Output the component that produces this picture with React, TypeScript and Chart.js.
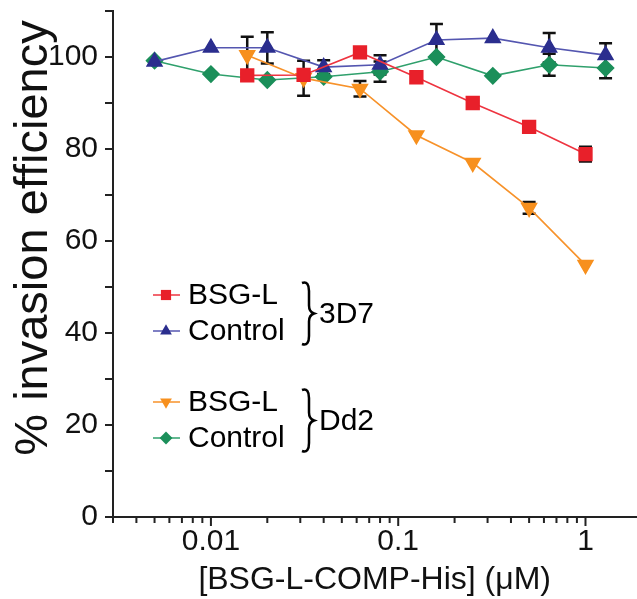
import React, { useEffect, useRef } from "react";
import { Chart, registerables } from "chart.js";

Chart.register(...registerables);

// ---- data ----
const bsgConc = [0.015625, 0.03125, 0.0625, 0.125, 0.25, 0.5, 1];
const ctrlConc = [0.005, 0.01, 0.02, 0.04, 0.08, 0.16, 0.32, 0.64, 1.28];

const bsg3D7 = [96, 96.1, 101, 95.6, 90, 84.8, 78.9];
const bsg3D7Err = [0, 0, 0, 0, 0, 0, 1.6];
const ctrl3D7 = [99, 102, 102, 97.8, 98.3, 103.7, 104.1, 102, 100.4];
const ctrl3D7Err = [0, 0, 3.4, 1.5, 2.1, 3.5, 0, 3.2, 2.6];
const bsgDd2 = [100.4, 95.4, 93.1, 83, 77, 67.2, 54.8];
const bsgDd2Err = [4, 3.8, 1.7, 0, 0, 1.3, 0];
const ctrlDd2 = [99.2, 96.3, 95, 95.7, 96.8, 100, 95.9, 98.3, 97.6];
const ctrlDd2Err = [0, 0, 0, 0, 2.2, 0, 0, 2.4, 2.2];

const xLabeled = [0.01, 0.1, 1];
const yTickStep = 10;
const yLabelStep = 20;
const yTitle = "% invasion efficiency";
const xTitle = "[BSG-L-COMP-His] (μM)";

const legendGroups = [
  { strain: "3D7", items: [{ label: "BSG-L", ds: 0 }, { label: "Control", ds: 1 }] },
  { strain: "Dd2", items: [{ label: "BSG-L", ds: 2 }, { label: "Control", ds: 3 }] },
];

const FONT = "'Liberation Sans', Arial, Helvetica, sans-serif";

const errors = [bsg3D7Err, ctrl3D7Err, bsgDd2Err, ctrlDd2Err];

function buildXTicks(min: number, max: number) {
  const out: { value: number }[] = [];
  for (let k = -3; k <= 0; k++) {
    for (let m = 1; m <= 9; m++) {
      const v = m * Math.pow(10, k);
      if (v >= min * 0.999 && v <= max) out.push({ value: v });
    }
  }
  return out;
}

const isLabeled = (v: number) => xLabeled.some((l) => Math.abs(l - v) / l < 1e-6);

const zeroPad = (s: any) => {
  s.paddingLeft = 0;
  s.paddingRight = 0;
  s.paddingTop = 0;
  s.paddingBottom = 0;
};

const errorBarPlugin = {
  id: "errbars",
  beforeDatasetsDraw(chart: any) {
    const ctx = chart.ctx;
    const ys = chart.scales.y;
    ctx.save();
    ctx.strokeStyle = "#111";
    ctx.lineWidth = 2.5;
    chart.data.datasets.forEach((ds: any, di: number) => {
      const meta = chart.getDatasetMeta(di);
      meta.data.forEach((pt: any, i: number) => {
        const e = errors[di][i];
        if (!e) return;
        const v = ds.data[i].y;
        const yt = ys.getPixelForValue(v + e);
        const yb = ys.getPixelForValue(v - e);
        const x = pt.x;
        ctx.beginPath();
        ctx.moveTo(x, yt);
        ctx.lineTo(x, yb);
        ctx.moveTo(x - 6.5, yt);
        ctx.lineTo(x + 6.5, yt);
        ctx.moveTo(x - 6.5, yb);
        ctx.lineTo(x + 6.5, yb);
        ctx.stroke();
      });
    });
    ctx.restore();
  },
};

const axisTickPlugin = {
  id: "axticks",
  afterDraw(chart: any) {
    const ctx = chart.ctx;
    const xs = chart.scales.x;
    const ys = chart.scales.y;
    const area = chart.chartArea;
    ctx.save();
    ctx.strokeStyle = "#222";
    ctx.lineWidth = 2;
    ctx.beginPath();
    xs.ticks.forEach((t: any) => {
      const x = xs.getPixelForValue(t.value);
      const len = isLabeled(t.value) ? 9 : 6;
      ctx.moveTo(x, area.bottom);
      ctx.lineTo(x, area.bottom + len);
    });
    ys.ticks.forEach((t: any) => {
      const y = ys.getPixelForValue(t.value);
      ctx.moveTo(area.left, y);
      ctx.lineTo(area.left - 8, y);
    });
    ctx.stroke();
    // y title
    ctx.translate(47, 238);
    ctx.rotate(-Math.PI / 2);
    ctx.fillStyle = "#111";
    ctx.font = `47px ${FONT}`;
    ctx.textAlign = "center";
    ctx.textBaseline = "alphabetic";
    ctx.fillText(yTitle, 0, 0);
    ctx.restore();
  },
};

function drawBrace(ctx: CanvasRenderingContext2D, x: number, y1: number, y2: number) {
  const mid = (y1 + y2) / 2;
  ctx.beginPath();
  ctx.moveTo(x - 3, y1 + 1);
  ctx.bezierCurveTo(x + 2, y1 - 1, x + 4, y1 + 3, x + 4, y1 + 9);
  ctx.lineTo(x + 4, mid - 8);
  ctx.bezierCurveTo(x + 4, mid - 3, x + 6, mid - 1, x + 9, mid);
  ctx.bezierCurveTo(x + 6, mid + 1, x + 4, mid + 3, x + 4, mid + 8);
  ctx.lineTo(x + 4, y2 - 9);
  ctx.bezierCurveTo(x + 4, y2 - 3, x + 2, y2 + 1, x - 3, y2 - 1);
  ctx.stroke();
}

function drawPointLocal(ctx: CanvasRenderingContext2D, o: any, x: number, y: number) {
  const r = o.radius;
  ctx.beginPath();
  if (o.pointStyle === "rect") {
    const s = Math.SQRT1_2 * r;
    ctx.rect(x - s, y - s, 2 * s, 2 * s);
  } else if (o.pointStyle === "rectRot") {
    ctx.moveTo(x, y - r);
    ctx.lineTo(x + r, y);
    ctx.lineTo(x, y + r);
    ctx.lineTo(x - r, y);
    ctx.closePath();
  } else if (o.pointStyle === "triangle") {
    const flip = o.rotation === 180 ? -1 : 1;
    ctx.moveTo(x, y - flip * r);
    ctx.lineTo(x + r * Math.cos(Math.PI / 6), y + (flip * r) / 2);
    ctx.lineTo(x - r * Math.cos(Math.PI / 6), y + (flip * r) / 2);
    ctx.closePath();
  }
  ctx.fill();
}

const legendPlugin = {
  id: "customLegend",
  afterDraw(chart: any) {
    const ctx = chart.ctx;
    ctx.save();
    const rowsY = [[295, 331], [402, 438]];
    legendGroups.forEach((g, gi) => {
      g.items.forEach((it, ii) => {
        const y = rowsY[gi][ii];
        const ds = chart.data.datasets[it.ds];
        ctx.strokeStyle = ds.borderColor;
        ctx.lineWidth = 1.5;
        ctx.beginPath();
        ctx.moveTo(153, y);
        ctx.lineTo(180, y);
        ctx.stroke();
        ctx.fillStyle = ds.pointBackgroundColor;
        drawPointLocal(
          ctx,
          { pointStyle: ds.pointStyle, rotation: ds.pointRotation || 0, radius: ds.pointRadius * 0.8 },
          166,
          y
        );
        ctx.fillStyle = "#000";
        ctx.font = `30px ${FONT}`;
        ctx.textBaseline = "middle";
        ctx.textAlign = "left";
        ctx.fillText(it.label, 188, y + 1);
      });
      const y1 = rowsY[gi][0] - 13;
      const y2 = rowsY[gi][1] + 14;
      ctx.strokeStyle = "#000";
      ctx.lineWidth = 2.5;
      drawBrace(ctx, 305, y1, y2);
      ctx.fillStyle = "#000";
      ctx.font = `30px ${FONT}`;
      ctx.textBaseline = "middle";
      ctx.fillText(g.strain, 319, (y1 + y2) / 2 + 1);
    });
    ctx.restore();
  },
};

const toPts = (xs: number[], ys: number[]) => xs.map((x, i) => ({ x, y: ys[i] }));

export default function App() {
  const ref = useRef<HTMLCanvasElement>(null);
  useEffect(() => {
    document.body.style.margin = "0";
    document.body.style.overflow = "hidden";
    const xMin = 0.003;
    const xMax = 1.87;
    const chart = new Chart(ref.current!, {
      type: "line",
      data: {
        datasets: [
          {
            label: "BSG-L 3D7",
            data: toPts(bsgConc, bsg3D7),
            borderColor: "#ee3440",
            backgroundColor: "#e8202a",
            pointBackgroundColor: "#e8202a",
            pointBorderColor: "#e8202a",
            pointStyle: "rect",
            pointRadius: 9,
            borderWidth: 1.6,
          },
          {
            label: "Control 3D7",
            data: toPts(ctrlConc, ctrl3D7),
            borderColor: "#5456b0",
            backgroundColor: "#2b2e8e",
            pointBackgroundColor: "#2b2e8e",
            pointBorderColor: "#2b2e8e",
            pointStyle: "triangle",
            pointRadius: 8.5,
            borderWidth: 1.6,
          },
          {
            label: "BSG-L Dd2",
            data: toPts(bsgConc, bsgDd2),
            borderColor: "#f7922a",
            backgroundColor: "#f7901e",
            pointBackgroundColor: "#f7901e",
            pointBorderColor: "#f7901e",
            pointStyle: "triangle",
            pointRotation: 180,
            pointRadius: 8.5,
            borderWidth: 1.6,
          },
          {
            label: "Control Dd2",
            data: toPts(ctrlConc, ctrlDd2),
            borderColor: "#2fa06c",
            backgroundColor: "#1b8f5a",
            pointBackgroundColor: "#1b8f5a",
            pointBorderColor: "#1b8f5a",
            pointStyle: "rectRot",
            pointRadius: 8,
            borderWidth: 1.6,
          },
        ] as any,
      },
      options: {
        animation: false,
        responsive: false,
        maintainAspectRatio: false,
        layout: { padding: { top: 11, right: 0, left: 0, bottom: 0 } },
        plugins: {
          legend: { display: false },
          tooltip: { enabled: false },
        },
        elements: { line: { tension: 0 } },
        scales: {
          x: {
            type: "logarithmic",
            min: xMin,
            max: xMax,
            afterBuildTicks: (s: any) => {
              s.ticks = buildXTicks(xMin, xMax);
            },
            afterFit: (s: any) => {
              s.height = 82;
              zeroPad(s);
            },
            grid: {
              display: true,
              drawOnChartArea: false,
              drawTicks: true,
              tickLength: 9,
              tickColor: "rgba(0,0,0,0)",
            },
            border: { display: true, color: "#222", width: 2 },
            ticks: {
              autoSkip: false,
              maxRotation: 0,
              minRotation: 0,
              padding: -2,
              color: "#111",
              font: { family: FONT, size: 30 },
              callback: (v: any) => (isLabeled(Number(v)) ? String(Number(v)) : ""),
            },
            title: {
              display: true,
              text: xTitle,
              color: "#111",
              font: { family: FONT, size: 32 },
              padding: { top: 7, bottom: 0 },
            },
          },
          y: {
            min: 0,
            max: 110,
            afterFit: (s: any) => {
              s.width = 113;
              zeroPad(s);
            },
            grid: {
              display: true,
              drawOnChartArea: false,
              drawTicks: true,
              tickLength: 8,
              tickColor: "rgba(0,0,0,0)",
            },
            border: { display: true, color: "#222", width: 2 },
            ticks: {
              stepSize: yTickStep,
              padding: 7,
              color: "#111",
              font: { family: FONT, size: 30 },
              callback: (v: any) => (Number(v) % yLabelStep === 0 ? String(v) : ""),
            },
            title: { display: false },
          },
        },
      },
      plugins: [errorBarPlugin, axisTickPlugin, legendPlugin],
    } as any);
    return () => chart.destroy();
  }, []);
  return (
    <div style={{ width: 637, height: 599, position: "relative", overflow: "hidden" }}>
      <canvas ref={ref} width={647} height={599} style={{ display: "block" }} />
    </div>
  );
}
